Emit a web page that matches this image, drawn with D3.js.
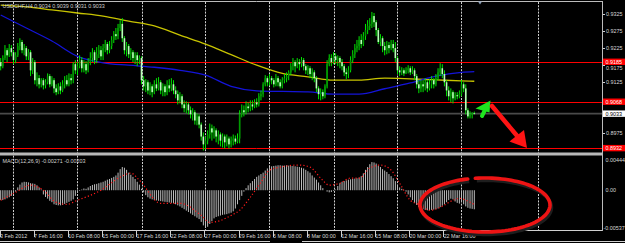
<!DOCTYPE html>
<html>
<head>
<meta charset="utf-8">
<script src="https://cdn.jsdelivr.net/npm/d3@7"></script>
<style>
  html, body { margin: 0; padding: 0; background: #000; overflow: hidden; }
  svg { display: block; }
</style>
</head>
<body>
<script>
  // USDCHF H4, prices x10000, one entry per bar: [open, high, low, close]
  const bars = [
    [9184,9196,9160,9172],[9172,9204,9166,9196],[9196,9234,9190,9219],[9219,9225,9184,9204],[9204,9237,9199,9225],
    [9225,9234,9201,9213],[9213,9219,9178,9190],[9190,9213,9181,9204],[9204,9240,9199,9231],[9231,9254,9219,9243],
    [9243,9249,9210,9219],[9219,9237,9204,9225],[9225,9231,9190,9201],[9201,9222,9190,9213],[9213,9219,9143,9160],
    [9160,9196,9149,9184],[9184,9190,9119,9131],[9131,9154,9113,9137],[9137,9146,9107,9119],[9119,9137,9110,9131],
    [9131,9137,9104,9116],[9116,9134,9107,9125],[9125,9151,9119,9143],[9143,9149,9110,9119],[9119,9143,9113,9131],
    [9131,9137,9093,9107],[9107,9119,9087,9096],[9096,9122,9090,9113],[9113,9125,9090,9101],[9101,9131,9096,9119],
    [9119,9143,9107,9131],[9131,9146,9113,9119],[9119,9151,9113,9137],[9137,9149,9119,9131],[9131,9184,9122,9178],
    [9178,9190,9149,9160],[9160,9184,9146,9172],[9172,9204,9166,9190],[9190,9199,9154,9166],[9166,9190,9154,9178],
    [9178,9187,9149,9160],[9160,9196,9154,9184],[9184,9213,9175,9196],[9196,9225,9184,9213],[9213,9219,9178,9190],
    [9190,9228,9181,9207],[9207,9234,9196,9219],[9219,9231,9190,9201],[9201,9237,9190,9225],[9225,9249,9213,9237],
    [9237,9243,9207,9219],[9219,9246,9210,9231],[9231,9260,9222,9249],[9249,9275,9240,9266],[9266,9284,9249,9260],
    [9260,9296,9251,9284],[9284,9307,9275,9296],[9296,9313,9243,9254],[9254,9260,9207,9219],[9219,9243,9201,9231],
    [9231,9237,9196,9207],[9207,9225,9190,9213],[9213,9219,9184,9196],[9196,9213,9178,9204],[9204,9213,9172,9190],
    [9190,9204,9178,9196],[9196,9201,9119,9131],[9131,9143,9101,9113],[9113,9134,9096,9125],[9125,9131,9090,9101],
    [9101,9125,9087,9113],[9113,9119,9081,9096],[9096,9131,9090,9119],[9119,9137,9099,9107],[9107,9140,9101,9125],
    [9125,9131,9090,9101],[9101,9122,9084,9113],[9113,9119,9084,9096],[9096,9131,9087,9116],[9116,9134,9096,9107],
    [9107,9137,9099,9119],[9119,9131,9090,9101],[9101,9113,9078,9090],[9090,9101,9060,9072],[9072,9096,9063,9084],
    [9084,9090,9049,9060],[9060,9072,9037,9049],[9049,9069,9034,9060],[9060,9066,9031,9043],[9043,9054,9019,9031],
    [9031,9049,9013,9037],[9037,9043,9001,9013],[9013,9034,8999,9025],[9025,9031,8990,9001],[9001,9007,8954,8966],
    [8966,8978,8925,8943],[8943,8966,8928,8954],[8954,8984,8943,8972],[8972,9004,8960,8990],[8990,9001,8954,8978],
    [8978,8996,8960,8984],[8984,8990,8949,8966],[8966,8984,8943,8972],[8972,8978,8937,8954],[8954,8975,8934,8966],
    [8966,8972,8931,8949],[8949,8972,8937,8960],[8960,8966,8931,8943],[8943,8966,8934,8954],[8954,8972,8940,8960],
    [8960,8969,8943,8951],[8951,8975,8946,8960],[8960,9043,8946,9031],[9031,9060,9022,9043],[9043,9057,9025,9037],
    [9037,9069,9031,9054],[9054,9066,9037,9049],[9049,9072,9040,9060],[9060,9072,9043,9054],[9054,9075,9049,9066],
    [9066,9078,9051,9060],[9060,9093,9054,9084],[9084,9101,9072,9090],[9090,9125,9081,9119],[9119,9146,9113,9137],
    [9137,9143,9113,9125],[9125,9149,9116,9137],[9137,9143,9119,9131],[9131,9137,9110,9119],[9119,9149,9113,9137],
    [9137,9143,9113,9125],[9125,9134,9107,9113],[9113,9140,9107,9131],[9131,9149,9122,9137],[9137,9154,9125,9143],
    [9143,9160,9131,9154],[9154,9181,9146,9172],[9172,9196,9160,9184],[9184,9190,9154,9172],[9172,9196,9166,9184],
    [9184,9193,9160,9178],[9178,9199,9169,9190],[9190,9196,9160,9172],[9172,9178,9149,9160],[9160,9175,9146,9166],
    [9166,9172,9137,9149],[9149,9166,9131,9154],[9154,9160,9125,9137],[9137,9143,9096,9107],[9107,9113,9075,9090],
    [9090,9107,9072,9096],[9096,9104,9075,9084],[9084,9119,9078,9113],[9113,9190,9107,9178],[9178,9207,9172,9196],
    [9196,9207,9172,9184],[9184,9213,9178,9201],[9201,9210,9178,9190],[9190,9204,9172,9196],[9196,9201,9166,9184],
    [9184,9193,9160,9172],[9172,9178,9143,9154],[9154,9166,9134,9149],[9149,9172,9137,9160],[9160,9201,9154,9190],
    [9190,9219,9181,9207],[9207,9237,9196,9225],[9225,9249,9213,9231],[9231,9260,9219,9249],[9249,9266,9225,9237],
    [9237,9272,9231,9260],[9260,9296,9249,9278],[9278,9307,9266,9290],[9290,9313,9278,9296],[9296,9331,9284,9319],
    [9319,9328,9287,9301],[9301,9307,9260,9278],[9278,9284,9237,9243],[9243,9266,9231,9254],[9254,9260,9213,9231],
    [9231,9243,9204,9219],[9219,9246,9207,9234],[9234,9243,9210,9225],[9225,9249,9219,9237],[9237,9249,9213,9225],
    [9225,9243,9184,9196],[9196,9201,9149,9160],[9160,9172,9143,9154],[9154,9169,9146,9160],[9160,9166,9143,9151],
    [9151,9169,9149,9160],[9160,9175,9151,9166],[9166,9172,9146,9154],[9154,9172,9149,9160],[9160,9166,9131,9143],
    [9143,9149,9107,9119],[9119,9131,9093,9107],[9107,9131,9096,9119],[9119,9131,9096,9113],[9113,9137,9101,9125],
    [9125,9131,9096,9107],[9107,9134,9101,9119],[9119,9143,9107,9131],[9131,9137,9107,9119],[9119,9149,9113,9137],
    [9137,9166,9131,9154],[9154,9181,9143,9166],[9166,9178,9137,9149],[9149,9160,9113,9125],[9125,9131,9084,9101],
    [9101,9113,9072,9084],[9084,9107,9066,9096],[9096,9101,9063,9078],[9078,9096,9072,9087],[9087,9096,9075,9084],
    [9084,9101,9078,9090],[9090,9131,9084,9119],[9119,9125,9096,9107],[9107,9119,9031,9043],[9043,9049,9019,9025],
    [9025,9040,9019,9031],[9031,9037,9019,9034],[9034,9039,9031,9033]
  ];

  // MACD main line (histogram), units of 0.00001, one per bar
  const macd = [
    -140,-140,-130,-115,-100,-80,-50,-20,40,80,110,120,118,112,100,96,90,70,40,10,
    -60,-96,-120,-150,-170,-200,-210,-215,-215,-210,-195,-180,-165,-150,-130,-80,-40,-10,10,25,
    20,40,60,75,85,90,100,110,120,135,150,160,175,190,210,250,300,330,320,290,
    250,220,190,160,120,80,20,-30,-70,-100,-120,-130,-140,-145,-150,-155,-160,-165,-170,-175,
    -180,-185,-200,-215,-230,-250,-270,-290,-310,-330,-350,-370,-390,-410,-450,-500,-530,-520,-480,-440,
    -400,-380,-370,-360,-350,-345,-340,-330,-320,-300,-260,-200,-140,-80,-20,30,70,100,130,160,
    190,210,230,250,280,310,330,340,345,350,355,355,350,350,355,350,345,345,340,335,
    330,320,310,290,270,250,210,180,150,110,70,30,0,-20,-30,-25,-10,10,60,100,
    120,130,140,150,155,160,165,170,180,200,240,290,330,370,400,395,380,350,330,300,
    280,260,230,200,170,130,70,40,20,5,-20,-60,-100,-140,-180,-210,-240,-255,-270,-280,
    -285,-285,-280,-275,-270,-260,-240,-220,-200,-170,-140,-120,-130,-160,-180,-190,-170,-200,-230,-250,
    -260,-265,-271
  ];

  // MACD signal line, units of 0.00001, read at these bars
  const signalBars = [0,7,14,20,26,31,36,47,56,61,65,75,84,94,98,103,108,112,117,122,126,131,140,145,150,154,159,164,168,173,178,183,187,192,197,201,206,212,215,220,222];
  const signalValues = [-143,-29,72,0,-172,-200,-143,0,186,243,143,-186,-186,-358,-458,-430,-358,-286,-100,115,286,329,358,329,172,72,100,172,172,315,358,286,100,-143,-215,-286,-243,-143,-115,-172,-203];

  // moving averages, prices x10000, read every 12 bars
  const maBars = [0,12,24,36,48,60,72,84,96,108,120,132,144,156,168,180,192,204,216,222];
  const maYellow = [9351,9346,9337,9328,9319,9304,9290,9263,9237,9206,9175,9151,9141,9131,9131,9137,9135,9132,9129,9128];
  const maBlue = [9322,9284,9246,9201,9182,9175,9169,9160,9146,9113,9100,9098,9097,9090,9090,9106,9123,9143,9154,9156];

  const levels = [9185, 9068, 8932];   // red horizontal lines
  const bid = 9033;
  const priceTicks = [9325, 9275, 9225, 9175, 9125, 9075, 9025, 8975];
  const macdTicks = [444, 0, -537];
  const timeLabels = ["3 Feb 2012","7 Feb 16:00","10 Feb 08:00","15 Feb 00:00","17 Feb 16:00","22 Feb 08:00","27 Feb 00:00",
    "29 Feb 16:00","5 Mar 08:00","8 Mar 00:00","12 Mar 16:00","15 Mar 08:00","20 Mar 00:00","22 Mar 16:00"];
  const labelStep = 16;
  const gridBars = [6, 36, 66, 96, 126, 156, 186, 216, 252];

  const width = 625, height = 243;
  const right = 602;
  const font = "'Liberation Sans', Arial, sans-serif";

  const svg = d3.select("body").append("svg")
    .attr("width", width)
    .attr("height", height)
    .style("background", "#000");

  const x = d3.scaleLinear().domain([0, 282]).range([0.7, 602.3]);
  const y = d3.scaleLinear().domain([8917.7, 9360.2]).range([153, 2]);
  const ym = d3.scaleLinear().domain([-537, 444]).range([228, 159]);

  const defs = svg.append("defs");
  defs.append("clipPath").attr("id", "main").append("rect").attr("x", 0).attr("y", 2).attr("width", right).attr("height", 151);
  defs.append("clipPath").attr("id", "sub").append("rect").attr("x", 0).attr("y", 156).attr("width", right).attr("height", 74);

  // grid
  svg.append("g").selectAll("line")
    .data(gridBars)
    .join("line")
    .attr("x1", d => Math.round(x(d)) + 0.5)
    .attr("x2", d => Math.round(x(d)) + 0.5)
    .attr("y1", 2).attr("y2", 230)
    .attr("stroke", "#cfcfcf")
    .attr("stroke-dasharray", "2,1.2");

  const main = svg.append("g").attr("clip-path", "url(#main)");

  // horizontal levels
  main.selectAll(".lvl")
    .data(levels)
    .join("line")
    .attr("x1", 0).attr("x2", right)
    .attr("y1", d => Math.round(y(d)) + 0.5)
    .attr("y2", d => Math.round(y(d)) + 0.5)
    .attr("stroke", "#ff0000");

  main.append("line")
    .attr("x1", 0).attr("x2", right)
    .attr("y1", y(bid)).attr("y2", y(bid))
    .attr("stroke", "#4a4a4a")
    .attr("stroke-width", 1.6);

  // moving averages
  const maLine = vals => d3.line()
    .x((d, i) => x(maBars[i]))
    .y(d => y(d))
    .curve(d3.curveMonotoneX)(vals);

  main.append("path").attr("d", maLine(maYellow))
    .attr("fill", "none").attr("stroke", "#c8c400").attr("stroke-width", 1.3);
  main.append("path").attr("d", maLine(maBlue))
    .attr("fill", "none").attr("stroke", "#1414d8").attr("stroke-width", 1.3);

  // candles
  const candle = main.selectAll(".c")
    .data(bars)
    .join("g");

  candle.append("line")
    .attr("x1", (d, i) => x(i)).attr("x2", (d, i) => x(i))
    .attr("y1", d => y(d[1])).attr("y2", d => y(d[2]))
    .attr("stroke", "#00e600")
    .attr("stroke-width", 1);

  candle.append("rect")
    .attr("x", (d, i) => x(i) - 0.8)
    .attr("width", 1.6)
    .attr("y", d => y(Math.max(d[0], d[3])))
    .attr("height", d => Math.max(0.8, Math.abs(y(d[0]) - y(d[3]))))
    .attr("fill", d => d[3] >= d[0] ? "#009a00" : "#b8ffb8");

  // MACD sub window
  const sub = svg.append("g").attr("clip-path", "url(#sub)");

  sub.selectAll(".h")
    .data(macd)
    .join("line")
    .attr("x1", (d, i) => x(i)).attr("x2", (d, i) => x(i))
    .attr("y1", ym(0)).attr("y2", d => ym(d))
    .attr("stroke", "#bdbdbd")
    .attr("stroke-width", 1);

  sub.append("path")
    .attr("d", d3.line().x((d, i) => x(signalBars[i])).y(d => ym(d)).curve(d3.curveMonotoneX)(signalValues))
    .attr("fill", "none")
    .attr("stroke", "#ff1a1a")
    .attr("stroke-width", 1.2)
    .attr("stroke-dasharray", "1.2,2.2");

  // frames
  svg.append("line").attr("x1", 0).attr("x2", right).attr("y1", 1.5).attr("y2", 1.5).attr("stroke", "#bcbcbc");
  svg.append("rect").attr("x", 0).attr("y", 152.5).attr("width", right + 1).attr("height", 3).attr("fill", "#b8b8b8");
  svg.append("line").attr("x1", 0).attr("x2", right).attr("y1", 230.5).attr("y2", 230.5).attr("stroke", "#d0d0d0");
  svg.append("line").attr("x1", right + 0.5).attr("x2", right + 0.5).attr("y1", 1).attr("y2", 231).attr("stroke", "#bcbcbc");
  svg.append("line").attr("x1", 0).attr("x2", 270).attr("y1", 241.5).attr("y2", 241.5).attr("stroke", "#cfcfcf");
  svg.append("line").attr("x1", 302).attr("x2", width).attr("y1", 241.5).attr("y2", 241.5).attr("stroke", "#cfcfcf");

  // chart shift marker
  svg.append("path").attr("d", "M478,1.5 L482,1.5 L480,4.5 Z").attr("fill", "#8da0b8");

  // level tags (drawn over the price scale)
  const tagData = levels.map(v => ({ v, bg: "#ff0000", fg: "#ffffff" }))
    .concat([{ v: bid, bg: "#ffffff", fg: "#000000" }]);

  // price axis: a label hidden behind a tag is not shown, one just clipped by it is moved clear
  const tickPos = d => {
    const near = tagData.map(t => y(t.v) - y(d)).filter(g => Math.abs(g) < 4.5);
    if (!near.length) return { d, ty: y(d) };
    if (Math.abs(near[0]) < 3) return null;
    return { d, ty: y(d) + (near[0] < 0 ? 2.6 : -2.6) };
  };

  const pAxis = svg.append("g");
  pAxis.selectAll("line")
    .data(priceTicks)
    .join("line")
    .attr("x1", right + 1).attr("x2", right + 3)
    .attr("y1", d => Math.round(y(d)) + 0.5).attr("y2", d => Math.round(y(d)) + 0.5)
    .attr("stroke", "#cfcfcf");
  pAxis.selectAll("text")
    .data(priceTicks.map(tickPos).filter(Boolean))
    .join("text")
    .attr("x", 606).attr("y", d => d.ty)
    .attr("dy", "0.35em")
    .attr("fill", "#d8d8d8")
    .style("font", `5.4px ${font}`)
    .text(d => (d.d / 10000).toFixed(4));

  const tag = svg.append("g").selectAll("g")
    .data(tagData)
    .join("g");
  tag.append("rect")
    .attr("x", 603).attr("width", 22)
    .attr("y", d => y(d.v) - 3.2).attr("height", 6.4)
    .attr("fill", d => d.bg);
  tag.append("text")
    .attr("x", 605.5).attr("y", d => y(d.v))
    .attr("dy", "0.35em")
    .attr("fill", d => d.fg)
    .style("font", `5.4px ${font}`)
    .text(d => (d.v / 10000).toFixed(4));

  // MACD axis
  svg.append("g").selectAll("text")
    .data(macdTicks)
    .join("text")
    .attr("x", d => d < 0 ? 603.5 : 605.5)
    .attr("y", d => ym(d) + (d > 0 ? 1 : 0))
    .attr("dy", "0.35em")
    .attr("fill", "#d8d8d8")
    .style("font", `5.4px ${font}`)
    .text(d => d === 0 ? "0.00" : (d / 100000).toFixed(5));

  // time axis
  const tAxis = svg.append("g").selectAll("g")
    .data(timeLabels)
    .join("g");
  tAxis.append("line")
    .attr("x1", (d, i) => Math.round(x(i * labelStep)) - 0.5)
    .attr("x2", (d, i) => Math.round(x(i * labelStep)) - 0.5)
    .attr("y1", 231).attr("y2", 237)
    .attr("stroke", "#cfcfcf");
  tAxis.append("text")
    .attr("x", (d, i) => x(i * labelStep) - 0.8)
    .attr("y", 236)
    .attr("dy", "0.35em")
    .attr("fill", "#d8d8d8")
    .style("font", `5.4px ${font}`)
    .text(d => d);

  // titles
  svg.append("text").attr("x", 2.5).attr("y", 6).attr("dy", "0.35em")
    .attr("fill", "#d0d0d0").style("font", `5.4px ${font}`)
    .text("USDCHF,H4  0.9034 0.9039 0.9031 0.9033");
  svg.append("text").attr("x", 2.5).attr("y", 161).attr("dy", "0.35em")
    .attr("fill", "#d0d0d0").style("font", `5.4px ${font}`)
    .text("MACD(12,26,9) -0.00271 -0.00203");

  // annotations: arrows and ellipse
  const ann = svg.append("g");
  ann.append("line")
    .attr("x1", 482).attr("y1", 116).attr("x2", 486.5).attr("y2", 107)
    .attr("stroke", "#1fe61f").attr("stroke-width", 4).attr("stroke-linecap", "round");
  ann.append("path").attr("d", "M490.5,100.5 L475.5,108.5 L489.5,112.5 Z").attr("fill", "#1fe61f");

  ann.append("line")
    .attr("x1", 492).attr("y1", 106).attr("x2", 518.5).attr("y2", 137.5)
    .attr("stroke", "#ff1414").attr("stroke-width", 4.5).attr("stroke-linecap", "round");
  ann.append("path").attr("d", "M527,148 L509.5,141.5 L524,130 Z").attr("fill", "#ff1414");

  const ell = (cx, cy) => {
    const pts = d3.range(0, 121).map(k => -1.72 + k * (2 * Math.PI - 0.12) / 120);
    return d3.line().x(t => cx + 65 * Math.cos(t)).y(t => cy + 27 * Math.sin(t))(pts);
  };
  ann.append("path").attr("d", ell(486.5, 207.5))
    .attr("fill", "none").attr("stroke", "#1e1e1e").attr("stroke-width", 3.4);
  ann.append("path").attr("d", ell(485, 205))
    .attr("fill", "none").attr("stroke", "#ee1414").attr("stroke-width", 3.6).attr("stroke-linecap", "round");
</script>
</body>
</html>
